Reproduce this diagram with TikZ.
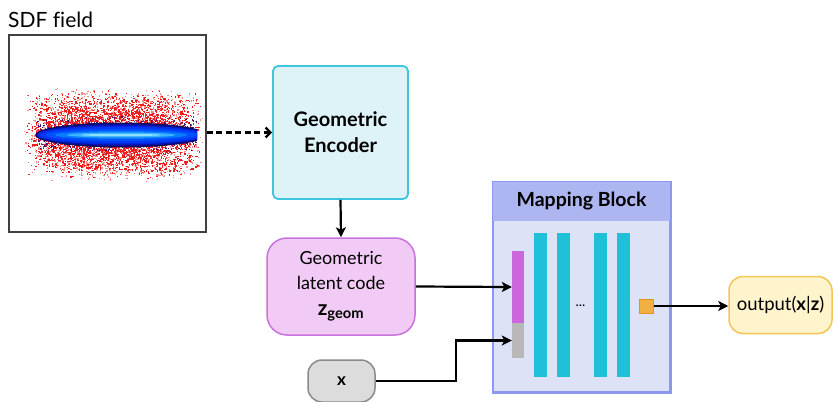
\documentclass[tikz,border=0pt]{standalone}
\usepackage{fontspec}
\setmainfont{Lato}
\usetikzlibrary{arrows.meta}
\definecolor{encfill}{HTML}{DDF3F8}
\definecolor{encdraw}{HTML}{3EC6E0}
\definecolor{latfill}{HTML}{F1CBF5}
\definecolor{latdraw}{HTML}{C873DD}
\definecolor{xfill}{HTML}{DCDCDC}
\definecolor{xdraw}{HTML}{8A8A8A}
\definecolor{mapbody}{HTML}{DDE2F7}
\definecolor{maphead}{HTML}{AEB6F2}
\definecolor{mapdraw}{HTML}{8C98F0}
\definecolor{magbar}{HTML}{CC66DD}
\definecolor{graybar}{HTML}{B8B8B8}
\definecolor{cyanbar}{HTML}{1FC0D8}
\definecolor{osqfill}{HTML}{F2B040}
\definecolor{osqdraw}{HTML}{E0961E}
\definecolor{outfill}{HTML}{FFF4CC}
\definecolor{outdraw}{HTML}{F5C456}
\definecolor{sdfred}{HTML}{EE1C1C}
\definecolor{sdfpink}{HTML}{F58A8A}
\definecolor{fringe}{HTML}{4A1070}
\tikzset{
  conn/.style={line width=2.2pt, draw=black, -{Stealth[length=10pt,width=10pt,inset=2.5pt]}},
  bar/.style={inner sep=0pt, minimum width=13pt, minimum height=144pt, fill=cyanbar},
}
\begin{document}
\begin{tikzpicture}[x=1pt,y=-1pt]
\useasboundingbox (0,0) rectangle (834,401);
% SDF field
\node[anchor=base west, inner sep=0pt, font=\fontsize{21}{24}\selectfont\addfontfeatures{Ligatures=NoCommon}] (sdflabel) at (8,28) {SDF field};
\begin{scope}
\clip (9,35) rectangle (206,232);
\pgfmathsetseed{11}
\foreach \i in {1,...,2500}{
  \pgfmathsetmacro\px{113+92*(0.75*rand+0.25*rand)}
  \pgfmathsetmacro\py{134+48*(rand+rand)/2}
  \fill[sdfpink] (\px,\py) rectangle ++(1.3,1.3);
}
\foreach \i in {1,...,4000}{
  \pgfmathsetmacro\px{113+90*(0.75*rand+0.25*rand)}
  \pgfmathsetmacro\py{134+44*(rand+rand)/2}
  \fill[sdfred] (\px,\py) rectangle ++(1.3,1.3);
}
\foreach \i in {1,...,900}{
  \pgfmathsetmacro\px{116+80*rand}
  \pgfmathsetmacro\py{134+18*(rand+rand)/2}
  \fill[fringe] (\px,\py) rectangle ++(1.2,1.2);
}
\end{scope}
\begin{scope}
\clip (30,110) rectangle (197,160);
\foreach \rx/\ry/\rr/\gg/\bb in {86/12.5/15/10/95, 85/11/5/15/160, 84/9.5/0/40/225, 81/8/0/55/245, 76/6/0/80/252, 66/4/10/125/255, 54/2.5/60/180/255, 40/1.2/140/225/255}{
  \fill[color={rgb,255:red,\rr;green,\gg;blue,\bb}] (121,135) ellipse ({\rx} and {\ry});
}
\end{scope}
\node[draw=black!75, line width=1.5pt, minimum width=197pt, minimum height=197pt, inner sep=0pt] (sdf) at (107.5,133.5) {};
% Geometric encoder
\node[draw=encdraw, fill=encfill, line width=1.8pt, rounded corners=5pt, minimum width=135pt, minimum height=133pt, align=center, font=\fontsize{20}{26}\selectfont\bfseries] (enc) at (340.5,132.5) {Geometric\\Encoder};
% latent code
\node[draw=latdraw, fill=latfill, line width=1.5pt, rounded corners=20pt, minimum width=148pt, minimum height=97pt, align=center, font=\fontsize{18}{25}\selectfont] (lat) at (341,286.5) {Geometric\\latent code\\[1pt]{\bfseries\fontsize{21}{22}\selectfont z\textsubscript{geom}}};
% x input
\node[draw=xdraw, fill=xfill, line width=1.5pt, rounded corners=14pt, minimum width=67pt, minimum height=42pt, font=\fontsize{17}{18}\selectfont\bfseries] (xn) at (341.5,381) {x};
% Mapping block
\node[draw=mapdraw, fill=mapbody, line width=1.5pt, minimum width=177pt, minimum height=210pt, inner sep=0pt] (map) at (581.5,287) {};
\node[fill=maphead, minimum width=177pt, minimum height=40pt, inner sep=0pt, anchor=north, font=\fontsize{19.5}{22}\selectfont\bfseries] (mhead) at (map.north) {Mapping Block};
\draw[mapdraw, line width=1.5pt] (map.north west) rectangle (map.south east);
\node[inner sep=0pt, minimum width=12pt, minimum height=72pt, fill=magbar] (mbar) at (518,287) {};
\node[inner sep=0pt, minimum width=12pt, minimum height=35pt, fill=graybar] (gbar) at (518,340.5) {};
\node[bar] (b1) at (540,305) {};
\node[bar] (b2) at (563,305) {};
\node[bar] (b3) at (600.5,305) {};
\node[bar] (b4) at (623.5,305) {};
\node[font=\fontsize{14}{14}\selectfont, inner sep=0pt] (dots) at (580.5,306) {...};
\node[draw=osqdraw, fill=osqfill, line width=1pt, minimum width=14pt, minimum height=14pt, inner sep=0pt] (osq) at (646.5,306) {};
% output
\node[draw=outdraw, fill=outfill, line width=1.5pt, rounded corners=14pt, minimum width=103pt, minimum height=57pt, inner sep=2pt, font=\fontsize{18.5}{20}\selectfont] (out) at (780.5,305) {output({\bfseries x}|{\bfseries z})};
% connectors
\draw[line width=2.2pt, dash pattern=on 6pt off 3.5pt, -{Straight Barb[length=5pt,width=10pt,line width=2.2pt]}] (sdf.east |- enc.west) -- (enc.west);
\draw[conn] (enc.south) -- (lat.north);
\draw[conn] (lat.east) -- (mbar.west);
\coordinate (xb) at (456,381);
\draw[conn] (xn.east) -- (xb) |- (gbar.west);
\draw[conn] (osq.east) -- (osq.east -| out.west);
\end{tikzpicture}
\end{document}
